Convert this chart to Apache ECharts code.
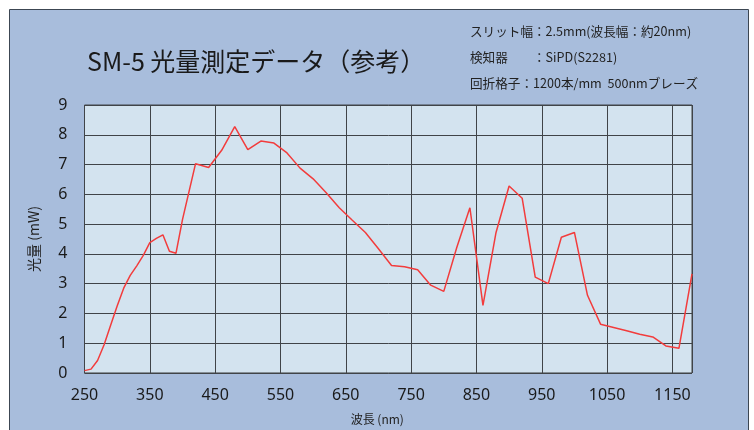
<!DOCTYPE html>
<html>
<head>
<meta charset="utf-8">
<script src="https://cdn.jsdelivr.net/npm/echarts@6/dist/echarts.min.js"></script>
<style>html,body{margin:0;padding:0;background:#fff}#c{width:754px;height:430px}</style>
</head>
<body>
<div id="c"></div>
<script>
// Wavelength (nm)
const wavelengths = [250,260,270,280,290,300,310,320,330,340,350,360,370,380,390,400,420,440,460,480,500,520,540,560,580,600,620,640,660,680,700,720,740,760,780,800,820,840,860,880,900,920,940,960,980,1000,1020,1040,1060,1080,1100,1120,1140,1160,1180];
// Light power (mW)
const power = [0.08,0.13,0.42,0.95,1.6,2.25,2.85,3.28,3.6,3.95,4.38,4.52,4.64,4.09,4.02,5.15,7.03,6.9,7.48,8.27,7.5,7.79,7.72,7.39,6.88,6.52,6.05,5.55,5.13,4.72,4.17,3.61,3.57,3.47,2.95,2.74,4.22,5.55,2.27,4.72,6.28,5.87,3.22,3.0,4.56,4.72,2.61,1.64,1.53,1.42,1.3,1.21,0.91,0.83,3.33];
const xTickLabels = ['250','350','450','550','650','750','850','950','1050','1150'];
const yTicks = [0,1,2,3,4,5,6,7,8,9];
const X0 = 250, XMAX = 1180;

const titleText = 'SM-5 光量測定データ（参考）';
const noteLines = ['スリット幅：2.5mm(波長幅：約20nm)', '検知器　　：SiPD(S2281)', '回折格子：1200本/mm  500nmブレーズ'];

const chart = echarts.init(document.getElementById('c'));
const font = '"Noto Sans CJK JP","Noto Sans",sans-serif';
chart.setOption({
  backgroundColor: '#ffffff',
  animation: false,
  textStyle: {fontFamily: font},
  graphic: [
    {type:'rect', z:-10, shape:{x:9.5,y:9.5,width:739,height:430}, style:{fill:'#a8bddc', stroke:'#3c4652', lineWidth:1}},
    ...noteLines.map((t,i)=>({type:'text', left:470, top:25+i*26, style:{text:t, fill:'#222', font:'12.6px '+font}}))
  ],
  title: {
    text: titleText, left: 82, top: 44,
    textStyle: {fontSize: 25, fontWeight: 'normal', color: '#1a1a1a', fontFamily: font}
  },
  grid: {left: 84.5, top: 105, right: 62, bottom: 55, show: true, backgroundColor: '#d3e3ef', borderColor: '#404448', borderWidth: 1},
  xAxis: {
    type: 'value', min: 0, max: XMAX - X0, interval: 100,
    name: '波長 (nm)', nameLocation: 'middle', nameGap: 40,
    nameTextStyle: {fontSize: 12, color: '#222', padding: [0, 22, 0, 0]},
    axisLine: {show: false}, axisTick: {show: false},
    axisLabel: {fontSize: 16, color: '#1a1a1a', margin: 14, fontFamily: '"Noto Sans",sans-serif',
      formatter: v => xTickLabels[Math.round(v/100)] || ''},
    splitLine: {show: true, lineStyle: {color: '#404448', width: 1}}
  },
  yAxis: {
    type: 'value', min: yTicks[0], max: yTicks[yTicks.length-1], interval: 1,
    name: '光量 (mW)', nameLocation: 'middle', nameGap: 44,
    nameTextStyle: {fontSize: 14, color: '#222'},
    axisLine: {show: false}, axisTick: {show: false},
    axisLabel: {fontSize: 16, color: '#1a1a1a', margin: 17, fontFamily: '"Noto Sans",sans-serif'},
    splitLine: {show: true, lineStyle: {color: '#404448', width: 1}}
  },
  series: [{
    type: 'line', symbol: 'none',
    data: wavelengths.map((w,i)=>[w - X0, power[i]]),
    lineStyle: {color: '#f23c3c', width: 1.5}
  }]
});
</script>
</body>
</html>
